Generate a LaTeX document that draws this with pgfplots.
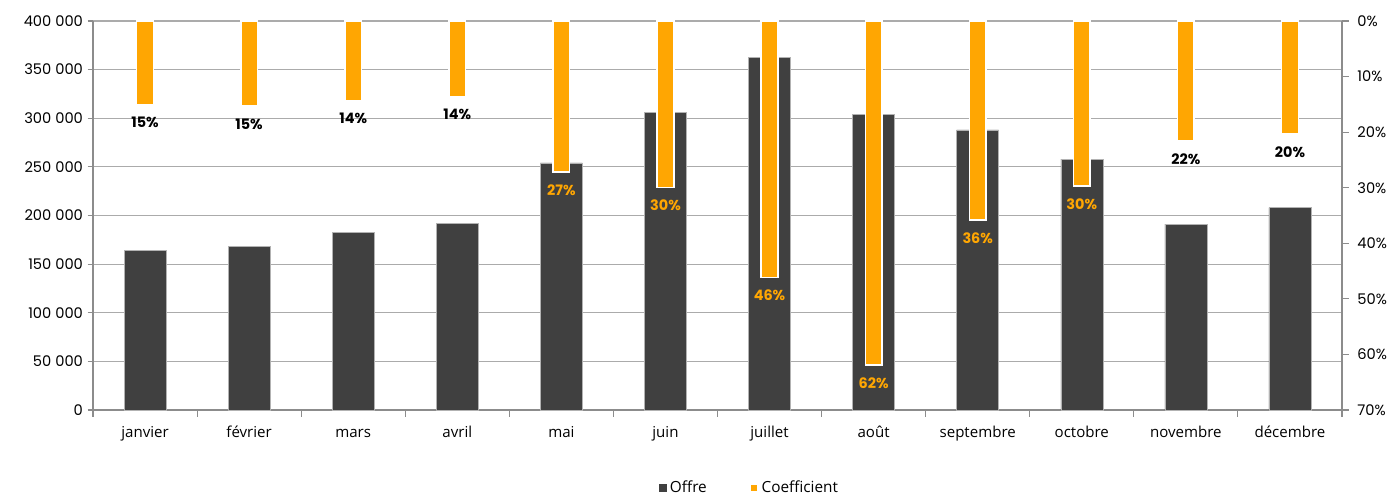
\documentclass[border=0pt]{standalone}
\usepackage{fontspec}
\setmainfont{Poppins}
\newfontfamily\catfont{Open Sans}
\usepackage{pgfplots}
\pgfplotsset{compat=1.18}
\definecolor{darkbar}{HTML}{404040}
\definecolor{orng}{HTML}{FFA602}
\definecolor{gridc}{HTML}{ABABAB}
\definecolor{axc}{HTML}{8C8C8C}
\begin{document}
\begin{tikzpicture}
\path[use as bounding box] (-69.75pt,-63.75pt) rectangle (975pt,307.5pt);
\begin{axis}[
  at={(0pt,0pt)}, anchor=south west,
  scale only axis, width=936.75pt, height=291.75pt,
  xmin=-0.5, xmax=11.5, ymin=0, ymax=400000,
  ybar, bar width=31.5pt, bar shift=0pt,
  axis x line*=bottom, axis y line*=left,
  axis line style={axc, line width=0.8pt},
  xtick={0,...,11},
  xticklabels={janvier,février,mars,avril,mai,juin,juillet,août,septembre,octobre,novembre,décembre},
  x tick label style={font=\catfont\fontsize{11.3}{13}\selectfont, yshift=-4pt,
    text height=1.6ex, text depth=0.4ex},
  major x tick style={draw=none},
  minor xtick={-0.5,0.5,...,11.5},
  minor x tick style={axc, line width=0.8pt},
  tick align=outside,
  major tick length=4pt, minor tick length=5pt,
  ytick={0,50000,100000,150000,200000,250000,300000,350000,400000},
  yticklabels={0,50 000,100 000,150 000,200 000,250 000,300 000,350 000,400 000},
  y tick style={axc, line width=0.8pt},
  scaled y ticks=false,
  y tick label style={font=\fontsize{11}{12}\selectfont},
  ymajorgrids, grid style={gridc, line width=0.9pt},
  clip=false,
]
\addplot[fill=darkbar, draw=gray!60, line width=0.4pt] coordinates {
 (0,164000) (1,168000) (2,183000) (3,192000) (4,254000) (5,306000)
 (6,362500) (7,304000) (8,288000) (9,258000) (10,191000) (11,208000)};
\end{axis}
\begin{axis}[
  at={(0pt,0pt)}, anchor=south west,
  scale only axis, width=936.75pt, height=291.75pt,
  xmin=-0.5, xmax=11.5, ymin=0, ymax=70, y dir=reverse,
  ybar, bar width=12.5pt, bar shift=0pt,
  axis x line=none, axis y line*=right,
  axis line style={axc, line width=0.8pt},
  ytick={0,10,20,30,40,50,60,70},
  yticklabels={0\%,10\%,20\%,30\%,40\%,50\%,60\%,70\%},
  y tick style={axc, line width=0.8pt},
  tick align=outside, major tick length=5pt,
  y tick label style={font=\fontsize{11}{12}\selectfont, xshift=3pt},
  clip=false,
  point meta=explicit symbolic,
  nodes near coords={\pgfplotspointmeta\%},
  every node near coord/.append style={anchor=north, yshift=-5.5pt, font=\bfseries\fontsize{10.8}{12}\selectfont},
  legend style={at={(0.526,-0.2)}, anchor=center, draw=none, legend columns=2,
    font=\catfont\fontsize{11.5}{13}\selectfont,
    /tikz/every even column/.append style={column sep=30pt}},
  legend image code/.code={\fill[#1] (0pt,-3pt) rectangle (6pt,3pt);},
]
\addlegendimage{fill=darkbar, draw=none}
\addlegendentry{Offre}
\addplot[fill=orng, draw=white, line width=1.1pt,
  every node near coord/.append style={text=black}] coordinates {
 (0,15.1) [15] (1,15.3) [15] (2,14.3) [14] (3,13.6) [14] (10,21.6) [22] (11,20.3) [20]};
\addlegendentry{Coefficient}
\addplot[fill=orng, draw=white, line width=1.1pt, forget plot,
  every node near coord/.append style={text=orng}] coordinates {
 (4,27.2) [27] (5,30.0) [30] (6,46.2) [46] (7,61.9) [62] (8,35.8) [36] (9,29.7) [30]};
\end{axis}
\end{tikzpicture}
\end{document}
